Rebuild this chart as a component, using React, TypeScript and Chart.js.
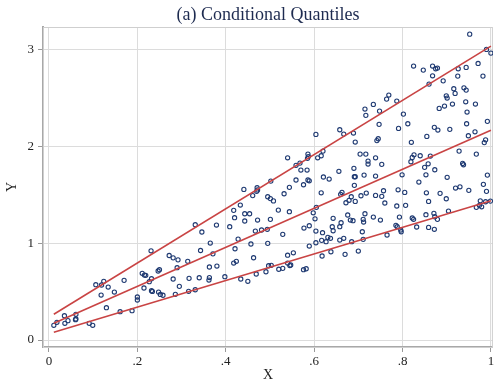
import React, { useEffect, useRef } from "react";
import { Chart, registerables } from "chart.js";

Chart.register(...registerables);

const titleText = "(a) Conditional Quantiles";
const xAxisTitle = "X";
const yAxisTitle = "Y";

const xTickValues = [0, 0.2, 0.4, 0.6, 0.8, 1];
const xTickLabels = ["0", ".2", ".4", ".6", ".8", "1"];
const yTickValues = [0, 1, 2, 3];
const yTickLabels = ["0", "1", "2", "3"];

const obsX = [
  0.011, 0.018, 0.035, 0.036, 0.043, 0.061, 0.061, 0.060, 0.091, 0.099,
  0.106, 0.118, 0.119, 0.124, 0.134, 0.130, 0.148, 0.161, 0.170, 0.188,
  0.200, 0.200, 0.231, 0.211, 0.216, 0.219, 0.227, 0.232, 0.215, 0.232,
  0.234, 0.250, 0.247, 0.272, 0.281, 0.292, 0.290, 0.281, 0.295, 0.248,
  0.252, 0.258, 0.286, 0.314, 0.317, 0.316, 0.331, 0.331, 0.346, 0.379,
  0.365, 0.343, 0.371, 0.363, 0.380, 0.340, 0.363, 0.362, 0.398, 0.409,
  0.418, 0.420, 0.433, 0.441, 0.443, 0.454, 0.443, 0.467, 0.481, 0.494,
  0.472, 0.501, 0.428, 0.457, 0.421, 0.495, 0.463, 0.424, 0.418, 0.469,
  0.491, 0.497, 0.503, 0.434, 0.450, 0.520, 0.529, 0.540, 0.553, 0.540,
  0.545, 0.547, 0.576, 0.582, 0.529, 0.519, 0.544, 0.461, 0.471, 0.472,
  0.470, 0.495, 0.501, 0.508, 0.502, 0.532, 0.540, 0.544, 0.559, 0.576,
  0.570, 0.584, 0.586, 0.589, 0.559, 0.568, 0.586, 0.587, 0.585, 0.608,
  0.616, 0.620, 0.604, 0.577, 0.589, 0.604, 0.604, 0.602, 0.598, 0.605,
  0.618, 0.589, 0.617, 0.627, 0.631, 0.637, 0.619, 0.638, 0.670, 0.700,
  0.658, 0.667, 0.685, 0.709, 0.711, 0.641, 0.643, 0.658, 0.643, 0.676,
  0.682, 0.688, 0.711, 0.712, 0.715, 0.734, 0.661, 0.672, 0.679, 0.684,
  0.693, 0.706, 0.718, 0.739, 0.660, 0.663, 0.616, 0.621, 0.634, 0.656,
  0.691, 0.693, 0.713, 0.739, 0.691, 0.690, 0.704, 0.717, 0.722, 0.722,
  0.739, 0.658, 0.667, 0.689, 0.693, 0.742, 0.734, 0.715, 0.717, 0.745,
  0.747, 0.748, 0.764, 0.769, 0.787, 0.791, 0.802, 0.812, 0.820, 0.825,
  0.847, 0.868, 0.875, 0.879, 0.926, 0.944, 0.971, 0.952, 0.990, 1.000,
  0.868, 0.892, 0.925, 0.982, 0.860, 0.916, 0.919, 0.939, 0.944, 0.899,
  0.901, 0.943, 0.965, 0.913, 0.895, 0.883, 0.946, 0.945, 0.992, 0.872,
  0.880, 0.907, 0.964, 0.855, 0.949, 0.988, 0.985, 0.928, 0.967, 0.826,
  0.822, 0.819, 0.840, 0.863, 0.753, 0.936, 0.938, 0.858, 0.850, 0.873,
  0.799, 0.853, 0.901, 0.992, 0.837, 0.983, 0.920, 0.930, 0.950, 0.790,
  0.757, 0.805, 0.854, 0.885, 0.990, 0.753, 0.899, 0.859, 0.760, 0.976,
  0.988, 0.999, 0.967, 0.974, 0.979, 0.787, 0.807, 0.904, 0.871, 0.873,
  0.879, 0.853, 0.750, 0.793, 0.822, 0.825, 0.785, 0.788, 0.796, 0.797,
  0.832, 0.859, 0.872, 0.765,
];

const obsY = [
  0.152, 0.183, 0.251, 0.173, 0.200, 0.266, 0.217, 0.210, 0.173, 0.152,
  0.572, 0.465, 0.569, 0.607, 0.548, 0.334, 0.496, 0.293, 0.617, 0.303,
  0.445, 0.414, 0.923, 0.690, 0.672, 0.669, 0.603, 0.634, 0.538, 0.510,
  0.502, 0.727, 0.714, 0.874, 0.850, 0.829, 0.748, 0.631, 0.555, 0.496,
  0.471, 0.463, 0.473, 0.814, 0.638, 0.504, 0.520, 1.192, 1.117, 1.189,
  1.003, 0.926, 0.891, 0.755, 0.765, 0.644, 0.646, 0.620, 0.655, 1.172,
  1.341, 1.265, 1.396, 1.558, 1.306, 1.306, 1.231, 1.127, 1.138, 1.145,
  1.241, 1.248, 1.044, 0.993, 0.944, 1.000, 0.851, 0.814, 0.796, 0.683,
  0.706, 0.768, 0.772, 0.631, 0.607, 0.732, 0.741, 0.877, 0.902, 0.796,
  0.770, 0.776, 0.727, 0.737, 1.093, 1.344, 1.327, 1.494, 1.575, 1.553,
  1.539, 1.482, 1.463, 1.439, 1.644, 1.513, 1.885, 1.579, 1.655, 1.606,
  1.758, 1.758, 1.655, 1.647, 1.807, 1.830, 1.923, 1.898, 1.879, 1.885,
  1.906, 1.954, 2.127, 1.158, 1.182, 1.127, 1.006, 1.254, 1.316, 1.372,
  0.869, 0.972, 1.031, 1.017, 1.062, 1.052, 1.110, 0.913, 0.886, 0.920,
  1.034, 1.052, 1.017, 1.120, 1.041, 1.172, 1.130, 1.172, 1.259, 1.293,
  1.241, 1.234, 1.248, 1.220, 1.306, 1.272, 1.213, 1.420, 1.445, 1.482,
  1.434, 1.492, 1.520, 1.496, 1.507, 1.527, 1.523, 1.686, 1.665, 1.745,
  1.689, 1.689, 1.706, 1.696, 1.600, 1.776, 1.923, 1.923, 1.851, 1.820,
  1.885, 2.175, 2.130, 2.141, 2.048, 2.063, 2.437, 2.389, 2.324, 2.082,
  2.231, 2.368, 2.492, 2.534, 2.472, 2.189, 2.337, 2.237, 2.045, 2.834,
  2.792, 2.834, 2.806, 2.813, 2.806, 2.820, 2.861, 3.164, 3.006, 2.968,
  2.733, 2.681, 2.730, 2.730, 2.647, 2.599, 2.551, 2.609, 2.585, 2.526,
  2.503, 2.464, 2.441, 2.441, 2.420, 2.396, 2.358, 2.237, 2.262, 2.200,
  2.172, 2.179, 2.154, 2.106, 2.113, 2.071, 2.042, 1.954, 1.923, 1.916,
  1.889, 1.844, 1.906, 1.903, 1.817, 1.827, 1.813, 1.823, 1.786, 1.761,
  1.709, 1.709, 1.683, 1.706, 1.634, 1.610, 1.572, 1.585, 1.548, 1.554,
  1.544, 1.527, 1.523, 1.517, 1.538, 1.486, 1.461, 1.434, 1.417, 1.440,
  1.430, 1.437, 1.372, 1.393, 1.378, 1.386, 1.393, 1.334, 1.310, 1.275,
  1.248, 1.296, 1.241, 1.272, 1.262, 1.248, 1.186, 1.172, 1.138, 1.120,
  1.169, 1.165, 1.145, 1.086,
];

// fitted quantile lines (endpoints at min/max of X)
const lineX = [0.011, 1.0];
const q10Line = [0.08, 1.44];
const q50Line = [0.173, 2.17];
const q90Line = [0.266, 3.04];

const SERIF = "'Liberation Serif', 'DejaVu Serif', serif";
const MARKER = "#1f3a72";
const LINE_RED = "#c94444";

const framePlugin = {
  id: "frame",
  beforeDatasetsDraw(chart: any) {
    const { ctx, chartArea } = chart;
    ctx.save();
    ctx.strokeStyle = "#cfcfcf";
    ctx.lineWidth = 1;
    ctx.strokeRect(chartArea.left + 0.5, chartArea.top + 0.5, chartArea.right - chartArea.left - 1, chartArea.bottom - chartArea.top);
    ctx.restore();
  },
};

// Title centred over the plot region (as in the reference), drawn as canvas text
const plotTitlePlugin = {
  id: "plotTitle",
  afterDraw(chart: any) {
    const { ctx, chartArea } = chart;
    ctx.save();
    ctx.fillStyle = "#1e2b50";
    ctx.font = `18px ${SERIF}`;
    ctx.textAlign = "center";
    ctx.textBaseline = "middle";
    ctx.fillText(titleText, (chartArea.left + chartArea.right) / 2, 15.5);
    ctx.restore();
  },
};

export default function App() {
  const canvasRef = useRef<HTMLCanvasElement | null>(null);

  useEffect(() => {
    if (!canvasRef.current) return;
    const points = obsX.map((x, i) => ({ x, y: obsY[i] }));
    const mkLine = (ys: number[]) => lineX.map((x, i) => ({ x, y: ys[i] }));
    const lineDs = (label: string, ys: number[]) => ({
      type: "line" as const,
      label,
      data: mkLine(ys),
      borderColor: LINE_RED,
      borderWidth: 1.6,
      pointRadius: 0,
      fill: false,
      order: 0,
    });

    const chart = new Chart(canvasRef.current, {
      type: "scatter",
      data: {
        datasets: [
          lineDs("q10", q10Line),
          lineDs("q50", q50Line),
          lineDs("q90", q90Line),
          {
            type: "scatter" as const,
            label: "Y",
            data: points,
            pointStyle: "circle",
            pointRadius: 2.1,
            pointBorderWidth: 1.1,
            borderColor: MARKER,
            backgroundColor: "rgba(255,255,255,0)",
            order: 1,
          } as any,
        ],
      },
      options: {
        animation: false,
        responsive: true,
        maintainAspectRatio: false,
        layout: { padding: { top: 27, right: 2, bottom: 0, left: 0 } },
        plugins: {
          legend: { display: false },
          tooltip: { enabled: false },
          title: { display: false },
        },
        scales: {
          x: {
            type: "linear",
            min: -6 / 444.5,
            max: 1 + 2 / 444.5,
            afterBuildTicks: (s: any) => {
              s.ticks = xTickValues.map((v) => ({ value: v }));
            },
            afterFit: (s: any) => {
              s.height = 35;
            },
            ticks: {
              color: "#222",
              font: { family: SERIF, size: 13 },
              padding: 2,
              maxRotation: 0,
              autoSkip: false,
              callback: (v: any) => {
                const i = xTickValues.findIndex((t) => Math.abs(t - Number(v)) < 1e-9);
                return i >= 0 ? xTickLabels[i] : "";
              },
            },
            grid: {
              color: "#dcdcdc",
              lineWidth: 1,
              borderDash: [1, 3],
              tickColor: "#999",
              tickBorderDash: [],
              tickLength: 5,
              tickWidth: 1,
            },
            border: { display: true, color: "#a8a8a8", width: 2 },
            title: {
              display: true,
              text: xAxisTitle,
              color: "#222",
              font: { family: SERIF, size: 14 },
              padding: { top: 0, bottom: -2 },
            },
          },
          y: {
            type: "linear",
            min: -7 / 96.67,
            max: 3 + 23 / 96.67,
            afterBuildTicks: (s: any) => {
              s.ticks = yTickValues.map((v) => ({ value: v }));
            },
            afterFit: (s: any) => {
              s.width = 43;
            },
            ticks: {
              color: "#222",
              font: { family: SERIF, size: 13 },
              padding: 4,
              autoSkip: false,
              callback: (v: any) => {
                const i = yTickValues.findIndex((t) => Math.abs(t - Number(v)) < 1e-9);
                return i >= 0 ? yTickLabels[i] : "";
              },
            },
            grid: {
              color: "#dcdcdc",
              lineWidth: 1,
              borderDash: [1, 3],
              tickColor: "#999",
              tickBorderDash: [],
              tickLength: 5,
              tickWidth: 1,
            },
            border: { display: true, color: "#a8a8a8", width: 2 },
            title: {
              display: true,
              text: yAxisTitle,
              color: "#222",
              font: { family: SERIF, size: 14 },
              padding: { top: 4, bottom: 0 },
            },
          },
        },
      } as any,
      plugins: [framePlugin, plotTitlePlugin],
    });

    return () => chart.destroy();
  }, []);

  return (
    <div style={{ position: "absolute", left: 0, top: 0, width: 498, height: 382, background: "#fff" }}>
      <canvas ref={canvasRef} />
    </div>
  );
}
